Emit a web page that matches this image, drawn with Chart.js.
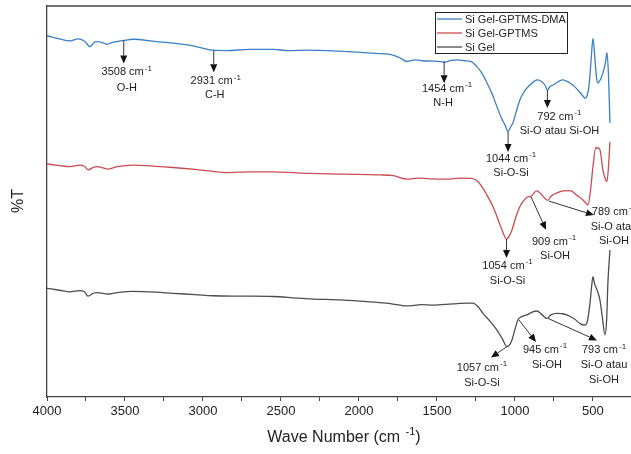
<!DOCTYPE html>
<html>
<head>
<meta charset="utf-8">
<script src="https://cdn.jsdelivr.net/npm/chart.js@4.4.0/dist/chart.umd.min.js"></script>
<style>
  body { margin: 0; background: #fff; }
</style>
</head>
<body>
<canvas id="ftir" width="631" height="454"></canvas>
<script>
// FTIR spectra. %T is on an arbitrary stacked scale (0-100).
const seriesNames = ['Si Gel-GPTMS-DMA', 'Si Gel-GPTMS', 'Si Gel'];
const seriesColors = ['#3b7fc4', '#cc4b50', '#4d4d4d'];

const dmaWn = [4000, 3920, 3853, 3800, 3760, 3724, 3700, 3679, 3640, 3615, 3580, 3551, 3508, 3449, 3300, 3192, 3050, 2936, 2846, 2700, 2551, 2450, 2333, 2200, 2100, 2013, 1900, 1801, 1740, 1692, 1640, 1590, 1530, 1481, 1454, 1410, 1372, 1320, 1288, 1244, 1210, 1179, 1145, 1115, 1085, 1064, 1044, 1025, 1013, 990, 968, 935, 904, 875, 853, 830, 808, 792, 775, 756, 720, 692, 660, 628, 590, 560, 551, 538, 526, 512, 500, 490, 478, 468, 455, 436, 420, 410, 400, 391];
const dmaT = [92.4, 91.6, 91.1, 91.6, 91.0, 89.6, 90.6, 90.9, 90.6, 90.2, 90.7, 90.9, 91.2, 91.5, 90.9, 90.5, 89.7, 88.7, 88.6, 88.9, 88.9, 88.6, 88.7, 88.6, 88.4, 88.2, 87.9, 87.6, 86.8, 85.8, 86.2, 86.0, 85.9, 85.8, 85.6, 86.1, 86.2, 86.0, 85.9, 84.5, 82.7, 80.3, 77.4, 74.2, 71.2, 69.6, 67.9, 69.3, 70.1, 73.2, 76.0, 78.4, 79.8, 80.8, 81.1, 80.7, 79.8, 78.5, 79.4, 79.8, 80.7, 81.1, 80.6, 79.8, 78.2, 76.8, 76.4, 77.0, 79.3, 86.0, 91.7, 88.0, 82.0, 80.3, 81.0, 82.9, 85.5, 88.1, 82.0, 70.1];

const gptmsWn = [4000, 3920, 3853, 3788, 3760, 3737, 3700, 3679, 3640, 3615, 3551, 3449, 3300, 3192, 3050, 2936, 2846, 2700, 2551, 2400, 2314, 2100, 1865, 1780, 1692, 1620, 1545, 1436, 1350, 1276, 1240, 1212, 1175, 1141, 1110, 1083, 1054, 1030, 1019, 995, 968, 940, 917, 897, 878, 859, 835, 810, 789, 770, 731, 690, 647, 600, 564, 545, 532, 515, 500, 481, 474, 468, 455, 436, 420, 410, 400, 391];
const gptmsT = [59.6, 59.2, 58.9, 59.3, 59.0, 58.1, 58.8, 58.9, 58.6, 58.3, 58.9, 59.3, 59.0, 58.7, 58.2, 57.7, 57.4, 57.6, 57.6, 57.3, 57.2, 57.0, 56.8, 56.6, 55.7, 56.0, 55.8, 55.7, 56.0, 55.9, 55.2, 53.8, 51.3, 48.7, 45.6, 42.7, 40.4, 41.7, 42.7, 45.9, 48.7, 50.4, 51.2, 51.3, 52.2, 52.7, 52.0, 50.9, 50.3, 51.3, 52.2, 52.7, 52.8, 51.5, 50.4, 49.6, 49.1, 53.0, 58.9, 63.9, 63.5, 63.7, 63.2, 58.1, 55.6, 55.1, 59.0, 65.2];

const gelWn = [4000, 3920, 3853, 3788, 3760, 3737, 3700, 3679, 3640, 3615, 3551, 3449, 3300, 3192, 3050, 2936, 2750, 2551, 2400, 2314, 2100, 1949, 1800, 1692, 1600, 1526, 1400, 1300, 1269, 1235, 1205, 1160, 1115, 1080, 1051, 1030, 1019, 1000, 981, 960, 923, 890, 859, 830, 795, 770, 731, 700, 667, 620, 580, 551, 535, 519, 508, 500, 490, 474, 455, 440, 423, 412, 404, 391];
const gelT = [27.8, 27.3, 26.9, 27.2, 26.9, 25.8, 26.6, 26.7, 26.5, 26.3, 26.7, 27.0, 26.8, 26.5, 26.2, 25.9, 25.8, 25.7, 25.3, 25.1, 24.8, 24.4, 23.9, 23.3, 23.6, 23.5, 23.8, 24.0, 24.0, 23.0, 21.4, 19.4, 17.1, 14.8, 12.9, 13.6, 14.6, 17.3, 19.7, 20.5, 21.0, 21.7, 22.0, 21.2, 20.1, 21.0, 21.4, 21.3, 21.0, 20.0, 18.7, 18.4, 19.5, 24.0, 28.5, 30.8, 29.0, 27.4, 24.8, 20.5, 15.9, 20.0, 29.2, 37.6];

const xTicks = [4000, 3750, 3500, 3250, 3000, 2750, 2500, 2250, 2000, 1750, 1500, 1250, 1000, 750, 500];

// band assignments: which series, where the arrow starts (wave number, %T), text
const peakSeries = [0, 0, 0, 0, 0, 1, 1, 1, 2, 2, 2];
const peakWn = [3508, 2931, 1454, 1044, 792, 1054, 897, 782, 1051, 974, 788];
const peakT = [91.2, 88.7, 85.9, 67.8, 78.5, 40.4, 51.2, 50.1, 12.9, 19.7, 20.1];
const peakLabels = [
  ['3508 cm-1', 'O-H'],
  ['2931 cm-1', 'C-H'],
  ['1454 cm-1', 'N-H'],
  ['1044 cm-1', 'Si-O-Si'],
  ['792 cm-1', 'Si-O atau Si-OH'],
  ['1054 cm-1', 'Si-O-Si'],
  ['909 cm-1', 'Si-OH'],
  ['789 cm-1', 'Si-O atau', 'Si-OH'],
  ['1057 cm-1', 'Si-O-Si'],
  ['945 cm-1', 'Si-OH'],
  ['793 cm-1', 'Si-O atau', 'Si-OH']
];

// pixel offsets from the arrow start: arrow tip and centre of each text line
const labelLayout = [
  { arrow: [0, 23], text: [[3, 32], [3, 48]] },
  { arrow: [0, 22], text: [[2, 31], [1, 45]] },
  { arrow: [0, 22], text: [[3, 28], [-1, 42]] },
  { arrow: [0, 20], text: [[3, 27], [3, 41]] },
  { arrow: [0, 18], text: [[12, 27], [12, 41]] },
  { arrow: [0, 19], text: [[1, 27], [1, 42]] },
  { arrow: [15, 33], text: [[23, 45], [24, 59]] },
  { arrow: [45, 14], text: [[65, 11], [65, 26], [65, 40]] },
  { arrow: [-16, 11], text: [[-25, 21], [-25, 36]] },
  { arrow: [17, 22], text: [[26, 30], [28, 45]] },
  { arrow: [49, 22], text: [[56, 32], [56, 47], [56, 62]] }
];

const FONT = '"Liberation Sans", Arial, sans-serif';

function toPoints(wn, t) {
  return wn.map((w, i) => ({ x: w, y: t[i] }));
}

// centred text; a "-1" is raised as a superscript wherever it appears
function supText(ctx, cx, cy, str, size) {
  const k = str.indexOf('-1');
  const base = k >= 0 ? str.slice(0, k) : str;
  const sup = k >= 0 ? '-1' : '';
  const tail = k >= 0 ? str.slice(k + 2) : '';
  const big = size + 'px ' + FONT;
  const small = Math.round(size * 0.7) + 'px ' + FONT;
  ctx.font = big;
  const w1 = ctx.measureText(base).width;
  const w3 = ctx.measureText(tail).width;
  ctx.font = small;
  const w2 = sup ? ctx.measureText(sup).width + 1 : 0;
  const x0 = cx - (w1 + w2 + w3) / 2;
  ctx.textAlign = 'left';
  ctx.textBaseline = 'middle';
  ctx.font = big;
  ctx.fillText(base, x0, cy);
  if (sup) {
    ctx.font = small;
    ctx.fillText(sup, x0 + w1 + 1, cy - size * 0.35);
  }
  if (tail) {
    ctx.font = big;
    ctx.fillText(tail, x0 + w1 + w2, cy);
  }
}

function drawArrow(ctx, x1, y1, x2, y2) {
  const ang = Math.atan2(y2 - y1, x2 - x1);
  const len = 8, half = 3.5;
  const bx = x2 - len * Math.cos(ang), by = y2 - len * Math.sin(ang);
  ctx.strokeStyle = '#333';
  ctx.lineWidth = 1;
  ctx.beginPath();
  ctx.moveTo(x1, y1);
  ctx.lineTo(bx, by);
  ctx.stroke();
  ctx.fillStyle = '#111';
  ctx.beginPath();
  ctx.moveTo(x2, y2);
  ctx.lineTo(bx + half * Math.sin(ang), by - half * Math.cos(ang));
  ctx.lineTo(bx - half * Math.sin(ang), by + half * Math.cos(ang));
  ctx.closePath();
  ctx.fill();
}

const decorations = {
  id: 'decorations',
  afterDraw(chart) {
    const ctx = chart.ctx;
    const xs = chart.scales.x, ys = chart.scales.y;
    const area = chart.chartArea;
    ctx.save();

    // top frame
    ctx.strokeStyle = '#444';
    ctx.lineWidth = 1.3;
    ctx.beginPath();
    ctx.moveTo(area.left, area.top);
    ctx.lineTo(chart.width, area.top);
    ctx.stroke();

    // band arrows and labels
    peakWn.forEach((w, i) => {
      const px = xs.getPixelForValue(w);
      const py = ys.getPixelForValue(peakT[i]);
      const lay = labelLayout[i];
      drawArrow(ctx, px, py, px + lay.arrow[0], py + lay.arrow[1]);
      ctx.fillStyle = '#222';
      peakLabels[i].forEach((line, j) => {
        supText(ctx, px + lay.text[j][0], py + lay.text[j][1], line, 11);
      });
    });

    // legend box
    const lx = 435, ly = 12, lw = 132, lh = 41;
    ctx.fillStyle = '#fff';
    ctx.fillRect(lx, ly, lw, lh);
    ctx.strokeStyle = '#222';
    ctx.lineWidth = 1;
    ctx.strokeRect(lx + 0.5, ly + 0.5, lw, lh);
    chart.data.datasets.forEach((ds, i) => {
      const yy = ly + 7 + i * 14;
      ctx.strokeStyle = ds.borderColor;
      ctx.lineWidth = 1.3;
      ctx.beginPath();
      ctx.moveTo(lx + 2, yy);
      ctx.lineTo(lx + 27, yy);
      ctx.stroke();
      ctx.fillStyle = '#222';
      ctx.font = '11px ' + FONT;
      ctx.textAlign = 'left';
      ctx.textBaseline = 'middle';
      ctx.fillText(ds.label, lx + 30, yy + 0.5);
    });

    // axis titles
    ctx.fillStyle = '#222';
    supText(ctx, 344, 438, 'Wave Number (cm -1)', 16);
    ctx.save();
    ctx.translate(19, 201);
    ctx.rotate(-Math.PI / 2);
    ctx.font = '16px ' + FONT;
    ctx.textAlign = 'center';
    ctx.textBaseline = 'middle';
    ctx.fillText('%T', 0, 0);
    ctx.restore();

    ctx.restore();
  }
};

const seriesData = [toPoints(dmaWn, dmaT), toPoints(gptmsWn, gptmsT), toPoints(gelWn, gelT)];

new Chart(document.getElementById('ftir'), {
  type: 'line',
  data: {
    datasets: seriesNames.map((name, i) => ({
      label: name,
      data: seriesData[i],
      borderColor: seriesColors[i],
      borderWidth: 1.3,
      pointRadius: 0,
      cubicInterpolationMode: 'monotone',
      fill: false
    }))
  },
  options: {
    responsive: false,
    animation: false,
    layout: { padding: { top: 6, left: 0, right: 0, bottom: 0 } },
    plugins: {
      legend: { display: false },
      tooltip: { enabled: false }
    },
    scales: {
      x: {
        type: 'linear',
        reverse: true,
        min: 256,
        max: 4000,
        afterFit: s => { s.height = 57; },
        afterBuildTicks: s => { s.ticks = xTicks.map(v => ({ value: v })); },
        ticks: {
          autoSkip: false,
          maxRotation: 0,
          padding: 3,
          color: '#222',
          font: { family: FONT, size: 13 },
          callback: v => (v % 500 === 0 ? String(v) : '')
        },
        grid: { drawOnChartArea: false, drawTicks: true, tickLength: 4, color: '#444' },
        border: { color: '#444', width: 1.3 }
      },
      y: {
        min: 0,
        max: 100,
        afterFit: s => { s.width = 47; },
        ticks: { display: false },
        grid: { display: false },
        border: { color: '#444', width: 1.3 }
      }
    }
  },
  plugins: [decorations]
});
</script>
</body>
</html>
